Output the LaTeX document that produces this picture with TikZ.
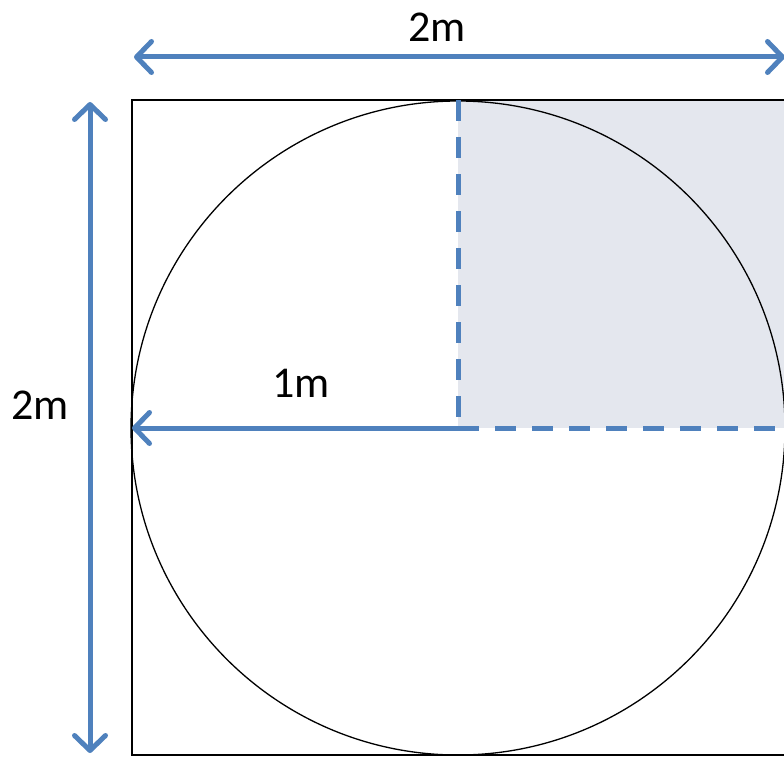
\documentclass[tikz,border=0pt]{standalone}
\usepackage{fontspec}
\setmainfont{Carlito}
\usetikzlibrary{arrows.meta, positioning}
\definecolor{dimblue}{RGB}{79,129,189}
\definecolor{quadfill}{RGB}{228,231,238}

\begin{document}
\begin{tikzpicture}[
      x=1pt, y=-1pt,
      lbl/.style={font=\fontsize{44}{50}\selectfont, inner sep=0pt},
      dim/.style={line width=5pt, color=dimblue, line cap=round,
                  {Straight Barb[length=15pt, width=31pt, line width=5pt, round]}-{Straight Barb[length=15pt, width=31pt, line width=5pt, round]}},
      radarr/.style={line width=5pt, color=dimblue,
                  {Straight Barb[length=15pt, width=31pt, line width=5pt, round]}-},
      dashln/.style={line width=5pt, color=dimblue, dash pattern=on 21pt off 16pt}
  ]
    \useasboundingbox (0,0) rectangle (784,757);

    % corners and centre
    \coordinate (tl) at (132,100);
    \coordinate (br) at (787,755);
    \coordinate (ctr) at (458,428);
    \coordinate (lft) at (132,428);
    \coordinate (top) at (458,100);
    \coordinate (rgt) at (784,428);

    % shaded quarter
    \fill[quadfill] (top) rectangle (787,428);

    % square and circle
    \draw[line width=1.5pt] (tl) rectangle (br);
    \draw[line width=1.3pt] (ctr) circle[radius=327pt];

    % dashed edges of the quarter
    \draw[dashln] (top) -- (ctr);
    \draw[dashln] (ctr) -- (rgt);

    % radius
    \draw[radarr] (lft) -- (ctr);
    \node[lbl] (r) at (301,383) {1m};

    % overall dimensions
    \coordinate (wl) at (134,57);
    \coordinate (wr) at (785,57);
    \draw[dim] (wl) -- (wr);
    \node[lbl] (w) at (437,27) {2m};

    \coordinate (ht) at (90,102);
    \coordinate (hb) at (90,753);
    \draw[dim] (ht) -- (hb);
    \node[lbl] (h) at (40,405) {2m};
  \end{tikzpicture}
\end{document}
